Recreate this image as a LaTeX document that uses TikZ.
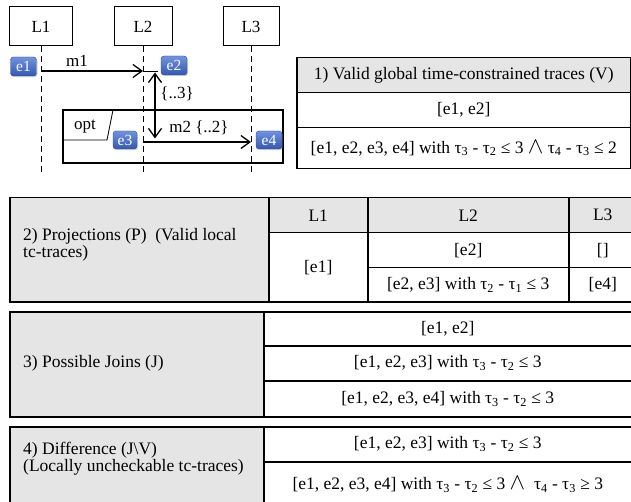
\documentclass[tikz,border=0pt]{standalone}
\usepackage{fontspec}
\setmainfont{Liberation Serif}
\usetikzlibrary{arrows.meta,shadows}

\definecolor{hdrgray}{RGB}{229,229,229}
\definecolor{badgetop}{RGB}{112,146,222}
\definecolor{badgebot}{RGB}{52,88,178}

\newcommand\tsb[1]{τ\textsubscript{#1}}
\newcommand\lwedge{\scalebox{1.35}{$\wedge$}}
\newcommand\fs{\fontsize{17}{17}\selectfont}
\newcommand\tfs{\fontsize{17.5}{18}\selectfont}

\tikzset{
  lifebox/.style={draw, line width=1pt, minimum height=39pt, inner sep=0pt, font=\fs},
  lifeline/.style={line width=1pt, dash pattern=on 6pt off 4pt},
  msg/.style={line width=1.3pt, -{Straight Barb[length=9pt,width=13pt,line width=1.3pt]}},
  dur/.style={line width=1.3pt, {Straight Barb[length=9pt,width=13pt,line width=1.3pt]}-{Straight Barb[length=9pt,width=13pt,line width=1.3pt]}},
  badge/.style={rounded corners=3pt, top color=badgetop, bottom color=badgebot,
    draw=badgebot!80!black, line width=0.4pt, text=white, inner sep=0pt,
    minimum width=26pt, minimum height=19pt, font=\fontsize{15.5}{15.5}\selectfont,
    drop shadow={opacity=0.35, shadow xshift=1pt, shadow yshift=-1.2pt}},
  lbl/.style={inner sep=0pt, font=\fs},
  cell/.style={draw, line width=1.5pt, anchor=north west, inner sep=0pt, font=\tfs},
  hcell/.style={cell, fill=hdrgray},
  side/.style={inner sep=0pt, anchor=west, align=left, font=\fontsize{17.5}{17}\selectfont}
}

\begin{document}
\begin{tikzpicture}[x=1pt, y=-1pt]
\useasboundingbox (0,0) rectangle (631,502);
\clip (0,0) rectangle (631,502);

% ---------- sequence diagram ----------
\node[lifebox, minimum width=63pt] (L1) at (41,26.5) {L1};
\node[lifebox, minimum width=58pt] (L2) at (143,26.5) {L2};
\node[lifebox, minimum width=56pt] (L3) at (251,26.5) {L3};

\coordinate (L1end) at (41,172);
\coordinate (L2end) at (143,172);
\coordinate (L3end) at (251,172);
\draw[lifeline] (L1.south) -- (L1end);
\draw[lifeline] (L2.south) -- (L2end);
\draw[lifeline] (L3.south) -- (L3end);

% opt fragment
\node[draw, line width=1.4pt, minimum width=220pt, minimum height=53pt, inner sep=0pt] (optframe) at (173,136.5) {};
\coordinate (optcorner) at (113,110);
\coordinate (optbend) at (107,140);
\coordinate (optleft) at (63,140);
\draw[line width=0.8pt] (optcorner) -- (optbend) -- (optleft);
\node[lbl] (optlbl) at (85,127) {opt};

% messages
\coordinate (m1s) at (41,71);
\coordinate (m1e) at (143,71);
\coordinate (stubend) at (158,71);
\draw[msg] (m1s) -- (m1e);
\draw[line width=0.8pt] (m1e) -- (stubend);
\node[lbl] (m1) at (77,61) {m1};

\coordinate (m2s) at (143,142);
\coordinate (m2e) at (251,142);
\draw[msg] (m2s) -- (m2e);
\node[lbl] (m2) at (199,128) {m2 \{..2\}};

% duration constraint between e2 and e3
\coordinate (durtop) at (155,72.5);
\coordinate (durbot) at (155,138.5);
\draw[dur] (durtop) -- (durbot);
\node[lbl] (durlbl) at (177,94) {\{..3\}};

% events
\node[badge] (e1) at (23.5,66.5) {e1};
\node[badge] (e2) at (174,65.5) {e2};
\node[badge, minimum width=24pt, minimum height=18pt] (e3) at (125,140) {e3};
\node[badge, minimum height=18pt] (e4) at (269,140) {e4};

% ---------- table 1 ----------
\node[hcell, minimum width=334pt, minimum height=35pt] (t1h) at (296,57) {1) Valid global time-constrained traces (V)};
\node[cell, minimum width=334pt, minimum height=35pt] (t1a) at (296,92) {[e1, e2]};
\node[cell, minimum width=334pt, minimum height=41pt] (t1b) at (296,127)
  {[e1, e2, e3, e4] with \tsb{3}~-~\tsb{2} ≤ 3 \lwedge{} \tsb{4}~-~\tsb{3} ≤ 2};

% ---------- table 2 ----------
\node[hcell, minimum width=259pt, minimum height=104pt] (t2h) at (9,197) {};
\node[side] (t2txt) at (23,244.5) {2) Projections (P)~~(Valid local\\tc-traces)};
\node[hcell, minimum width=99pt, minimum height=35pt] (t2l1) at (268,197) {L1};
\node[hcell, minimum width=201pt, minimum height=35pt] (t2l2) at (367,197) {L2};
\node[hcell, minimum width=68pt, minimum height=35pt] (t2l3) at (568,197) {L3};
\node[cell, minimum width=99pt, minimum height=69pt] (t2e1) at (268,232) {[e1]};
\node[cell, minimum width=201pt, minimum height=35pt] (t2e2) at (367,232) {[e2]};
\node[cell, minimum width=201pt, minimum height=34pt] (t2e23) at (367,267) {[e2, e3] with \tsb{2}~-~\tsb{1} ≤ 3};
\node[cell, minimum width=68pt, minimum height=35pt] (t2nil) at (568,232) {[]};
\node[cell, minimum width=68pt, minimum height=34pt] (t2e4) at (568,267) {[e4]};

% ---------- table 3 ----------
\node[hcell, minimum width=254pt, minimum height=105pt] (t3h) at (9,311) {};
\node[side] (t3txt) at (23,363.5) {3) Possible Joins (J)};
\node[cell, minimum width=368pt, minimum height=34pt] (t3a) at (263,311) {[e1, e2]};
\node[cell, minimum width=368pt, minimum height=35pt] (t3b) at (263,345) {[e1, e2, e3] with \tsb{3}~-~\tsb{2} ≤ 3};
\node[cell, minimum width=368pt, minimum height=36pt] (t3c) at (263,380) {[e1, e2, e3, e4] with \tsb{3}~-~\tsb{2} ≤ 3};

% ---------- table 4 ----------
\node[hcell, minimum width=254pt, minimum height=86pt] (t4h) at (9,426) {};
\node[side] (t4txt) at (23,458.5) {4) Difference (J\textbackslash V)\\(Locally uncheckable tc-traces)};
\node[cell, minimum width=368pt, minimum height=35pt] (t4a) at (263,426) {[e1, e2, e3] with \tsb{3}~-~\tsb{2} ≤ 3};
\node[cell, minimum width=368pt, minimum height=46pt] (t4b) at (263,461)
  {[e1, e2, e3, e4] with \tsb{3}~-~\tsb{2} ≤ 3 \lwedge~ \tsb{4}~-~\tsb{3} ≥ 3};
\end{tikzpicture}
\end{document}
